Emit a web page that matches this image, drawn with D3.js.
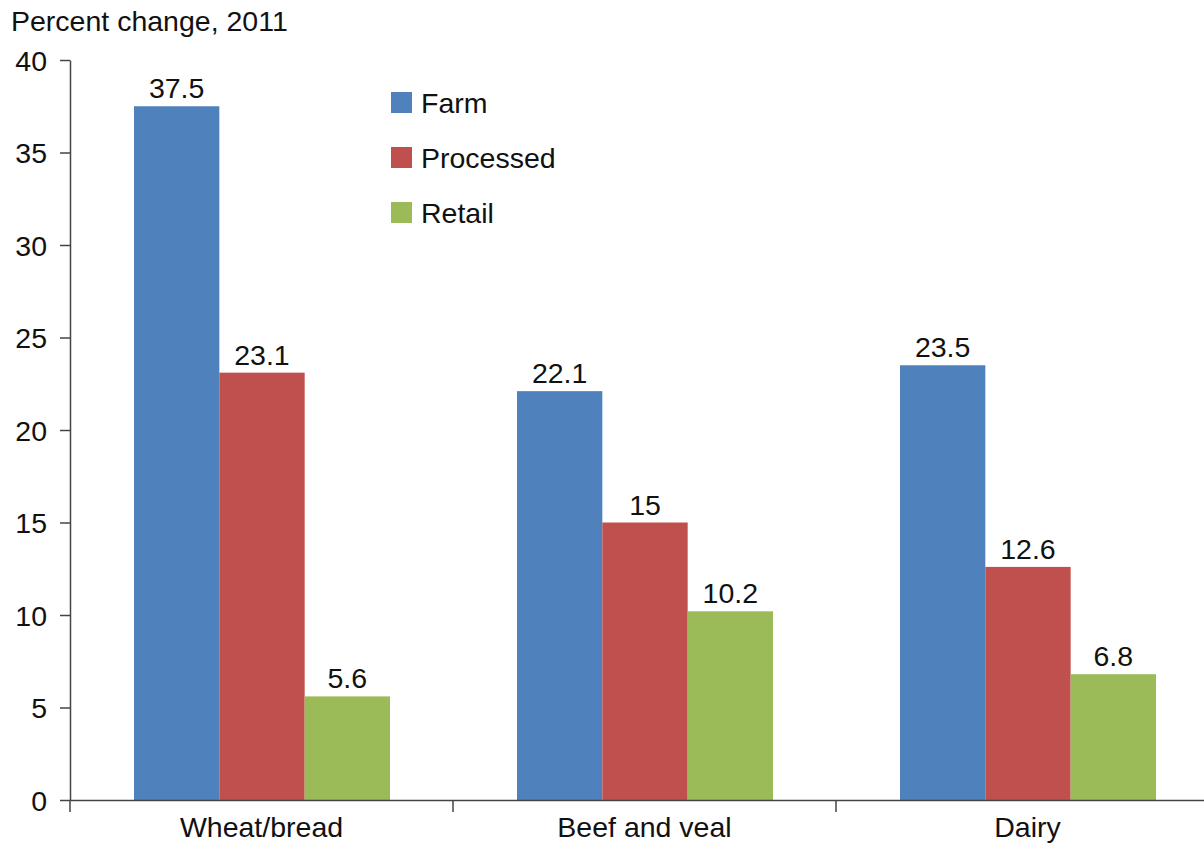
<!DOCTYPE html>
<html>
<head>
<meta charset="utf-8">
<script src="https://cdn.jsdelivr.net/npm/d3@7"></script>
<style>
  body { margin: 0; background: #fff; }
  text { font-family: "Liberation Sans", Arial, sans-serif; fill: #111; }
</style>
</head>
<body>
<svg class="chart" width="1204" height="845"></svg>
<script>

// Chart data.
var categories = ["Wheat/bread", "Beef and veal", "Dairy"];
var seriesNames = ["Farm", "Processed", "Retail"];
var farm = [37.5, 22.1, 23.5];
var processed = [23.1, 15, 12.6];
var retail = [5.6, 10.2, 6.8];
var yTicks = [0, 5, 10, 15, 20, 25, 30, 35, 40];
var colors = ["#4F81BD", "#C0504D", "#9BBB59"];

var series = [farm, processed, retail];
var fontSize = "28.5px";

var svg = d3.select(".chart");

// Scales.
var x0 = d3.scaleBand()
    .domain(categories)
    .range([70, 1219]);

var x1 = d3.scaleBand()
    .domain(seriesNames)
    .range([64, 320]);

var y = d3.scaleLinear()
    .domain([0, 40])
    .range([800, 60]);

// Axis title.
svg.append("text")
    .attr("x", 11)
    .attr("y", 31)
    .style("font-size", fontSize)
    .text("Percent change, 2011");

// Draw bars.
var group = svg.selectAll(".group")
    .data(categories)
  .enter().append("g")
    .attr("class", "group")
    .attr("transform", function(d) { return "translate(" + x0(d) + ",0)"; });

group.selectAll("rect")
    .data(function(d, i) {
      return seriesNames.map(function(s, j) { return {name: s, value: series[j][i], k: j}; });
    })
  .enter().append("rect")
    .attr("x", function(d) { return x1(d.name); })
    .attr("y", function(d) { return y(d.value); })
    .attr("width", x1.bandwidth())
    .attr("height", function(d) { return y(0) - y(d.value); })
    .attr("fill", function(d) { return colors[d.k]; });

// Value labels.
group.selectAll(".value")
    .data(function(d, i) {
      return seriesNames.map(function(s, j) { return {name: s, value: series[j][i]}; });
    })
  .enter().append("text")
    .attr("class", "value")
    .attr("x", function(d) { return x1(d.name) + x1.bandwidth() / 2; })
    .attr("y", function(d) { return y(d.value) - 8; })
    .attr("text-anchor", "middle")
    .style("font-size", fontSize)
    .text(function(d) { return d.value; });

// Y axis.
var yAxis = svg.append("g")
    .attr("transform", "translate(70,0)")
    .call(d3.axisLeft(y).tickValues(yTicks).tickSize(10).tickSizeOuter(0).tickPadding(13));

yAxis.selectAll("text")
    .style("font-size", fontSize)
    .attr("dy", "0.36em");

// X axis.
var xAxis = svg.append("g")
    .attr("transform", "translate(0,800)")
    .call(d3.axisBottom(x0).tickSize(0).tickSizeOuter(0));

xAxis.selectAll("text")
    .style("font-size", fontSize)
    .attr("y", 37)
    .attr("dy", 0);

xAxis.selectAll(".boundary")
    .data(categories)
  .enter().append("line")
    .attr("class", "boundary")
    .attr("x1", function(d) { return x0(d); })
    .attr("x2", function(d) { return x0(d); })
    .attr("y1", 0)
    .attr("y2", 12)
    .attr("stroke", "#444")
    .attr("stroke-width", 1.5);

svg.selectAll(".domain, .tick line")
    .attr("stroke", "#444")
    .attr("stroke-width", 1.5);

// Legend.
var legend = svg.selectAll(".legend")
    .data(seriesNames)
  .enter().append("g")
    .attr("class", "legend")
    .attr("transform", function(d, i) { return "translate(391," + (92 + i * 55) + ")"; });

legend.append("rect")
    .attr("width", 21)
    .attr("height", 21)
    .attr("fill", function(d, i) { return colors[i]; });

legend.append("text")
    .attr("x", 30)
    .attr("y", 21)
    .style("font-size", fontSize)
    .text(function(d) { return d; });

</script>
</body>
</html>
